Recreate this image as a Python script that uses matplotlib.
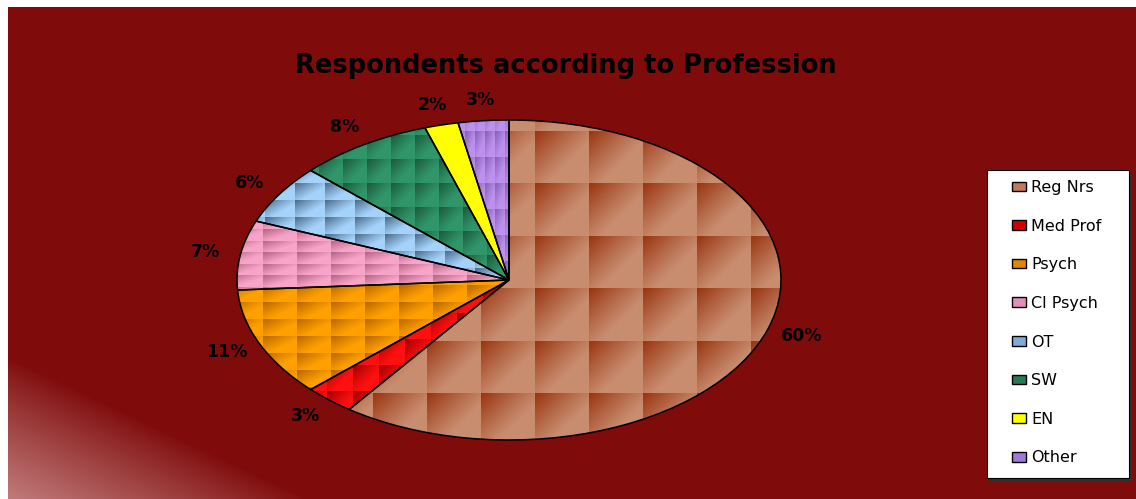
import numpy as np
import matplotlib
matplotlib.use("Agg")
import matplotlib.pyplot as plt
from matplotlib.patches import Rectangle, Patch
from matplotlib.colors import to_rgb

# Datos
categorias = ['Reg Nrs', 'Med Prof', 'Psych', 'Cl Psych', 'OT', 'SW', 'EN', 'Other']
porcentajes = [60, 3, 11, 7, 6, 8, 2, 3]
titulo = 'Respondents according to Profession'

# Colores (claro, oscuro) para la textura de cada sector y color de la leyenda
claros = ['#c88c6e', '#ff1010', '#ffa000', '#f8a4c8', '#a4d2fa', '#30966a', '#ffff00', '#bc90ec']
oscuros = ['#9a3410', '#a00000', '#b86800', '#b46484', '#4c6c8c', '#1c5a3c', '#ffff00', '#8660b4']
leyenda = ['#c07a5a', '#d00000', '#e08800', '#e090b8', '#80a8d8', '#287a54', '#ffff00', '#a078d8']
tiles = [(54, 52.5), (26, 26), (34, 17), (34, 11.5), (30, 17), (24, 24), (34, 34), (10, 26)]

fondo = '#7f0b0b'
W, H = 1136, 499

fig = plt.figure(figsize=(W / 100, H / 100), dpi=100)
fig.patch.set_facecolor('white')

# Fondo rojo con degradado en la esquina inferior izquierda
bg = fig.add_axes([8 / W, 0, 1 - 8 / W, (H - 7) / H])
bg.set_xlim(0, W - 8)
bg.set_ylim(0, H - 7)
bg.axis('off')
bg.add_patch(Rectangle((0, 0), W - 8, H - 7, color=fondo, zorder=0))
yy, xx = np.mgrid[0:H - 7, 0:W - 8]
d = (142 - yy - xx * 142 / 300) / np.hypot(1, 142 / 300)
alpha = np.clip(d / 150, 0, 1) ** 0.9 * 0.78
grad = np.zeros((H - 7, W - 8, 4))
grad[..., :3] = np.array(to_rgb('#e0b0b0'))
grad[..., 3] = alpha
bg.imshow(grad, origin='lower', extent=[0, W - 8, 0, H - 7], aspect='auto', zorder=1)

# Ejes del pastel (elipse)
cx, cy, rx, ry = 509, 280, 272, 160
ax = fig.add_axes([(cx - rx) / W, (H - cy - ry) / H, 2 * rx / W, 2 * ry / H])

wedges, pcts = ax.pie(
    porcentajes, startangle=90, counterclock=False, colors=claros,
    autopct='%1.0f%%', pctdistance=1.13,
    wedgeprops=dict(edgecolor='black', linewidth=1.1),
    textprops=dict(fontsize=12.5, fontweight='bold', family='DejaVu Sans'))[0::2]
ax.set_xlim(-1, 1)
ax.set_ylim(-1, 1)
ax.set_aspect('auto')
ax.axis('off')


def textura(claro, oscuro, tw, th):
    c1 = np.array(to_rgb(claro))
    c2 = np.array(to_rgb(oscuro))
    y, x = np.mgrid[0:2 * ry, 0:2 * rx]
    X = x + cx - rx - 535
    Y = y + cy - ry - 183
    u = (X % tw) / tw
    v = (Y % th) / th
    t = np.clip(1 - (u + v) / 1.2, 0, 1) ** 1.1
    return c1 * (1 - t[..., None]) + c2 * t[..., None]


for w_, cl, os_, (tw, th) in zip(wedges, claros, oscuros, tiles):
    img = ax.imshow(textura(cl, os_, tw, th), extent=[-1, 1, -1, 1], origin='upper',
                    aspect='auto', zorder=2, interpolation='nearest')
    img.set_clip_path(w_)
    w_.set_facecolor('none')
    w_.set_zorder(3)

for t in pcts:
    t.set_color('black')

fig.text(566 / W, 1 - 66 / H, titulo, ha='center', va='center',
         fontsize=18.5, fontweight='bold', family='DejaVu Sans', color='black')

# Caja de la leyenda
lx0, ly0, lx1, ly1 = 987, 170, 1129, 478
fig.patches.append(Rectangle(((lx0 + 3) / W, 1 - (ly1 + 3) / H), (lx1 - lx0) / W, (ly1 - ly0) / H,
                             transform=fig.transFigure, facecolor='#303030', edgecolor='none', zorder=5))
fig.patches.append(Rectangle((lx0 / W, 1 - ly1 / H), (lx1 - lx0) / W, (ly1 - ly0) / H,
                             transform=fig.transFigure, facecolor='white', edgecolor='black',
                             lw=0.8, zorder=6))

handles = [Patch(facecolor=c, edgecolor='black', lw=1.0) for c in leyenda]
leg = fig.legend(handles, categorias, loc='upper left',
                 bbox_to_anchor=(1012 / W, 1 - 180 / H), frameon=False,
                 handlelength=0.85, handleheight=0.55, handletextpad=0.35,
                 labelspacing=1.48, borderpad=0, borderaxespad=0,
                 prop=dict(family='DejaVu Sans', size=11.5))
leg.set_zorder(7)

plt.savefig('out.png', dpi=100, facecolor=fig.get_facecolor())
